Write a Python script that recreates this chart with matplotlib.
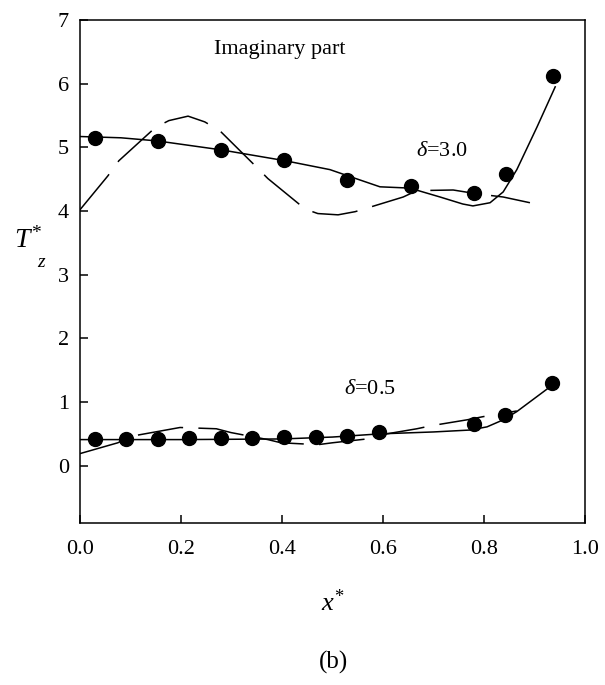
import matplotlib
matplotlib.use('Agg')
import matplotlib.pyplot as plt

plt.rcParams['font.family'] = ['Liberation Serif', 'DejaVu Serif']
plt.rcParams['mathtext.fontset'] = 'custom'
plt.rcParams['mathtext.rm'] = 'Liberation Serif'
plt.rcParams['mathtext.it'] = 'Liberation Serif:italic'

# symbols (measured)
x_pts30 = [0.03, 0.154, 0.28, 0.404, 0.529, 0.655, 0.78, 0.844, 0.937]
y_pts30 = [5.15, 5.10, 4.96, 4.80, 4.49, 4.40, 4.28, 4.58, 6.12]
x_pts05 = [0.03, 0.091, 0.154, 0.216, 0.279, 0.341, 0.404, 0.467, 0.529, 0.592, 0.78, 0.842, 0.935]
y_pts05 = [0.42, 0.42, 0.42, 0.43, 0.44, 0.44, 0.45, 0.45, 0.46, 0.53, 0.66, 0.80, 1.30]

# solid curves
x_sol30 = [0.0, 0.081, 0.154, 0.28, 0.406, 0.495, 0.535, 0.594, 0.653, 0.713, 0.758, 0.778,
           0.812, 0.838, 0.865, 0.905, 0.941]
y_sol30 = [5.17, 5.15, 5.10, 4.96, 4.79, 4.65, 4.54, 4.38, 4.36, 4.22, 4.11, 4.08,
           4.13, 4.30, 4.65, 5.32, 5.95]
x_sol05 = [0.0, 0.2, 0.4, 0.5, 0.594, 0.7, 0.772, 0.806, 0.838, 0.865, 0.931]
y_sol05 = [0.41, 0.41, 0.42, 0.45, 0.50, 0.53, 0.56, 0.61, 0.72, 0.85, 1.24]

# dashed curves
x_das30 = [0.0, 0.055, 0.077, 0.149, 0.176, 0.214, 0.247, 0.277, 0.347, 0.372, 0.446, 0.471,
           0.511, 0.545, 0.570, 0.640, 0.667, 0.739, 0.786, 0.838, 0.891]
y_das30 = [4.02, 4.55, 4.79, 5.31, 5.42, 5.49, 5.40, 5.26, 4.71, 4.51, 4.03, 3.96,
           3.94, 3.99, 4.05, 4.22, 4.32, 4.33, 4.27, 4.22, 4.13]
x_das05 = [0.0, 0.075, 0.1, 0.17, 0.198, 0.27, 0.299, 0.372, 0.398, 0.471, 0.50, 0.568,
           0.60, 0.667, 0.697, 0.766, 0.798, 0.865]
y_das05 = [0.19, 0.36, 0.46, 0.56, 0.60, 0.58, 0.52, 0.41, 0.36, 0.33, 0.36, 0.42,
           0.49, 0.58, 0.63, 0.72, 0.77, 0.86]

fig = plt.figure(figsize=(6.05, 6.85), dpi=100)
ax = fig.add_axes([80/605, 1-523/685, 505/605, 503/685])

lw = 1.1
ax.plot(x_sol30, y_sol30, 'k-', lw=lw)
ax.plot(x_sol05, y_sol05, 'k-', lw=lw)
ax.plot(x_das30, y_das30, 'k-', lw=lw, dashes=(30, 10))
ax.plot(x_das05, y_das05, 'k-', lw=lw, dashes=(30, 10))
ax.plot(x_pts30, y_pts30, 'ko', ms=10, zorder=5)
ax.plot(x_pts05, y_pts05, 'ko', ms=10, zorder=5)

ax.set_xlim(0, 1.0)
ax.set_ylim(-0.9, 7)
ax.set_xticks([0.0, 0.2, 0.4, 0.6, 0.8, 1.0])
ax.set_yticks(range(0, 8))
ax.set_xticklabels(['0.0', '0.2', '0.4', '0.6', '0.8', '1.0'])
ax.tick_params(direction='in', length=6, width=1.1, labelsize=16, top=False, right=False)
ax.tick_params(axis='x', pad=12)
ax.tick_params(axis='y', pad=8)
for s in ax.spines.values():
    s.set_linewidth(1.1)

ax.text(0.396, 6.53, 'Imaginary part', fontsize=16, ha='center', va='center')
ax.text(0.717, 4.93, r'$\delta$=3.0', fontsize=16, ha='center', va='center')
ax.text(0.574, 1.19, r'$\delta$=0.5', fontsize=16, ha='center', va='center')

fig.text(28/605, 1-240/685, r'$T^{*}$', fontsize=20, ha='center', va='center')
fig.text(42/605, 1-262/685, r'$z$', fontsize=14, ha='center', va='center')
fig.text(333/605, 1-603/685, r'$x^{*}$', fontsize=19, ha='center', va='center')
fig.text(333/605, 1-662/685, '(b)', fontsize=18, ha='center', va='center')

fig.savefig('out.png', dpi=100)
